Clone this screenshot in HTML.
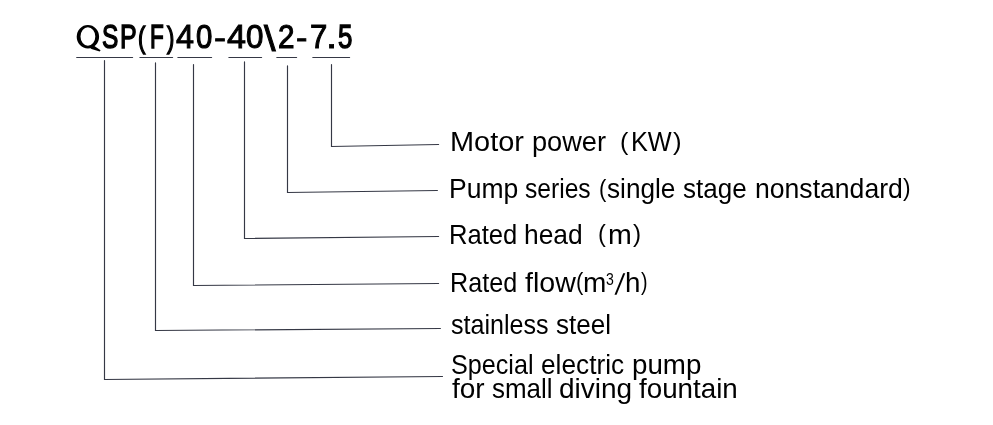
<!DOCTYPE html>
<html><head><meta charset="utf-8">
<style>
html,body{margin:0;padding:0;background:#fff;width:993px;height:425px;overflow:hidden;position:relative}
.t{position:absolute;font-family:"Liberation Sans",sans-serif;color:#000;white-space:pre;transform-origin:0 0;filter:grayscale(1)}
svg{position:absolute;left:0;top:0}
</style></head><body>
<svg width="993" height="425" viewBox="0 0 993 425">
<g stroke="#353845" stroke-width="1.15" fill="none" stroke-linecap="round">
<line x1="76.7" y1="57.5" x2="132.6" y2="57.5"/>
<line x1="139.9" y1="57.5" x2="172.6" y2="57.5"/>
<line x1="177.9" y1="57.5" x2="211.6" y2="57.5"/>
<line x1="228.9" y1="57.5" x2="261.6" y2="57.5"/>
<line x1="276.8" y1="57.5" x2="296.6" y2="57.5"/>
<line x1="312.8" y1="57.5" x2="349.6" y2="57.5"/>
<polyline points="104.5,60.6 104.5,379.5 442.5,376.5"/>
<polyline points="155.5,62.7 155.5,330.5 440.4,328.5"/>
<polyline points="193.5,64.6 193.5,285.5 438.6,283.5"/>
<polyline points="244.5,61.8 244.5,238.5 438.6,236.5"/>
<polyline points="287.5,65.7 287.5,192.5 437.4,190.5"/>
<polyline points="331.5,64.6 331.5,146.5 438.6,144.5"/>
</g>
<path fill="#000" fill-rule="evenodd" d="M76.7,36.75 A11.2,11.65 0 1,0 99.1,36.75 A11.2,11.65 0 1,0 76.7,36.75 Z M80.5,36.5 A7.4,9.3 0 1,0 95.3,36.5 A7.4,9.3 0 1,0 80.5,36.5 Z"/>
<path fill="#000" d="M623.2,273.2 L625.3,273.2 L616.6,294.8 L614.5,294.8 Z"/>
<path fill="#000" d="M88.5,46.8 L94,45.8 L100.6,50.3 L99.6,51.4 L91.5,48.9 Z"/>
</svg>
<div class="t" style="left:101.76px;top:18.80px;font-size:34px;line-height:34px;transform:scaleX(0.7190);-webkit-text-stroke:1.44px #000">S</div>
<div class="t" style="left:120.03px;top:18.80px;font-size:34px;line-height:34px;transform:scaleX(0.7333);-webkit-text-stroke:1.41px #000">P</div>
<div class="t" style="left:138.39px;top:22.78px;font-size:34px;line-height:34px;transform:scale(0.6500,0.8481);-webkit-text-stroke:1.61px #000">(</div>
<div class="t" style="left:149.87px;top:18.80px;font-size:34px;line-height:34px;transform:scaleX(0.6630);-webkit-text-stroke:1.55px #000">F</div>
<div class="t" style="left:167.38px;top:22.78px;font-size:34px;line-height:34px;transform:scale(0.6500,0.8481);-webkit-text-stroke:1.59px #000">)</div>
<div class="t" style="left:176.26px;top:18.80px;font-size:34px;line-height:34px;transform:scaleX(0.9534);-webkit-text-stroke:0.99px #000">4</div>
<div class="t" style="left:195.95px;top:18.80px;font-size:34px;line-height:34px;transform:scaleX(0.8629);-webkit-text-stroke:1.16px #000">0</div>
<div class="t" style="left:213.74px;top:23.11px;font-size:34px;line-height:34px;transform:scale(1.0595,0.8571);-webkit-text-stroke:0.90px #000">-</div>
<div class="t" style="left:226.65px;top:18.80px;font-size:34px;line-height:34px;transform:scaleX(1.0056);-webkit-text-stroke:0.90px #000">4</div>
<div class="t" style="left:245.81px;top:18.80px;font-size:34px;line-height:34px;transform:scaleX(0.9217);-webkit-text-stroke:1.05px #000">0</div>
<div class="t" style="left:263.81px;top:21.25px;font-size:34px;line-height:34px;transform:scale(1.2190,1.0175);-webkit-text-stroke:0.90px #000">\</div>
<div class="t" style="left:277.91px;top:18.80px;font-size:34px;line-height:34px;transform:scaleX(0.8727);-webkit-text-stroke:1.14px #000">2</div>
<div class="t" style="left:296.39px;top:23.11px;font-size:34px;line-height:34px;transform:scale(1.0054,0.8571);-webkit-text-stroke:0.90px #000">-</div>
<div class="t" style="left:309.56px;top:18.80px;font-size:34px;line-height:34px;transform:scaleX(0.9152);-webkit-text-stroke:1.06px #000">7</div>
<div class="t" style="left:325.57px;top:18.80px;font-size:34px;line-height:34px;transform:scaleX(1.1750);-webkit-text-stroke:0.90px #000">.</div>
<div class="t" style="left:337.62px;top:18.80px;font-size:34px;line-height:34px;transform:scaleX(0.7606);-webkit-text-stroke:1.32px #000">5</div>
<div class="t" style="left:450.13px;top:127.80px;font-size:27.5px;line-height:27.5px;transform:scaleX(1.0519);">Motor</div>
<div class="t" style="left:531.87px;top:127.80px;font-size:27.5px;line-height:27.5px;transform:scaleX(0.9883);">power</div>
<div class="t" style="left:620.00px;top:128.90px;font-size:27.5px;line-height:27.5px;transform:scale(0.9143,0.9010);">(</div>
<div class="t" style="left:630.73px;top:127.80px;font-size:27.5px;line-height:27.5px;transform:scaleX(0.9198);">KW</div>
<div class="t" style="left:672.97px;top:128.90px;font-size:27.5px;line-height:27.5px;transform:scale(0.9379,0.9010);">)</div>
<div class="t" style="left:448.83px;top:174.50px;font-size:27.5px;line-height:27.5px;transform:scaleX(0.9635);">Pump</div>
<div class="t" style="left:525.33px;top:174.50px;font-size:27.5px;line-height:27.5px;transform:scaleX(0.8951);">series</div>
<div class="t" style="left:599.00px;top:176.10px;font-size:27.5px;line-height:27.5px;transform:scale(0.8000,0.9010);">(</div>
<div class="t" style="left:607.09px;top:174.50px;font-size:27.5px;line-height:27.5px;transform:scaleX(0.9514);">single</div>
<div class="t" style="left:683.09px;top:174.50px;font-size:27.5px;line-height:27.5px;transform:scaleX(0.9456);">stage</div>
<div class="t" style="left:754.61px;top:174.50px;font-size:27.5px;line-height:27.5px;transform:scaleX(0.9666);">nonstandard</div>
<div class="t" style="left:903.39px;top:176.14px;font-size:27.5px;line-height:27.5px;transform:scale(0.8276,0.8854);">)</div>
<div class="t" style="left:449.20px;top:221.40px;font-size:27.5px;line-height:27.5px;transform:scaleX(0.9314);">Rated</div>
<div class="t" style="left:524.48px;top:221.40px;font-size:27.5px;line-height:27.5px;transform:scaleX(0.9600);">head</div>
<div class="t" style="left:597.70px;top:222.14px;font-size:27.5px;line-height:27.5px;transform:scale(0.8571,0.8854);">(</div>
<div class="t" style="left:607.78px;top:221.40px;font-size:27.5px;line-height:27.5px;transform:scaleX(1.0390);">m</div>
<div class="t" style="left:633.38px;top:222.14px;font-size:27.5px;line-height:27.5px;transform:scale(0.8828,0.8854);">)</div>
<div class="t" style="left:450.34px;top:268.50px;font-size:27.5px;line-height:27.5px;transform:scaleX(0.9155);">Rated</div>
<div class="t" style="left:525.38px;top:268.50px;font-size:27.5px;line-height:27.5px;transform:scaleX(1.0392);">flow</div>
<div class="t" style="left:575.80px;top:270.14px;font-size:27.5px;line-height:27.5px;transform:scale(0.8000,0.8854);">(</div>
<div class="t" style="left:583.02px;top:268.50px;font-size:27.5px;line-height:27.5px;transform:scaleX(1.0182);">m</div>
<div class="t" style="left:606.24px;top:271.50px;font-size:16px;line-height:16px;transform:scaleX(0.8800);">3</div>
<div class="t" style="left:625.18px;top:268.50px;font-size:27.5px;line-height:27.5px;transform:scaleX(1.0087);">h</div>
<div class="t" style="left:640.62px;top:270.14px;font-size:27.5px;line-height:27.5px;transform:scale(0.7172,0.8854);">)</div>
<div class="t" style="left:451.22px;top:311.40px;font-size:27.5px;line-height:27.5px;transform:scaleX(0.9121);">stainless</div>
<div class="t" style="left:556.39px;top:311.40px;font-size:27.5px;line-height:27.5px;transform:scaleX(0.9459);">steel</div>
<div class="t" style="left:451.16px;top:351.30px;font-size:27.5px;line-height:27.5px;transform:scaleX(0.9149);">Special</div>
<div class="t" style="left:541.31px;top:351.30px;font-size:27.5px;line-height:27.5px;transform:scaleX(0.9541);">electric</div>
<div class="t" style="left:632.14px;top:351.30px;font-size:27.5px;line-height:27.5px;transform:scaleX(1.0076);">pump</div>
<div class="t" style="left:451.79px;top:375.00px;font-size:27.5px;line-height:27.5px;transform:scaleX(1.0176);">for</div>
<div class="t" style="left:491.89px;top:375.00px;font-size:27.5px;line-height:27.5px;transform:scaleX(0.9431);">small</div>
<div class="t" style="left:559.23px;top:375.00px;font-size:27.5px;line-height:27.5px;transform:scaleX(1.0182);">diving</div>
<div class="t" style="left:639.10px;top:375.00px;font-size:27.5px;line-height:27.5px;transform:scaleX(1.0094);">fountain</div>
</body></html>
